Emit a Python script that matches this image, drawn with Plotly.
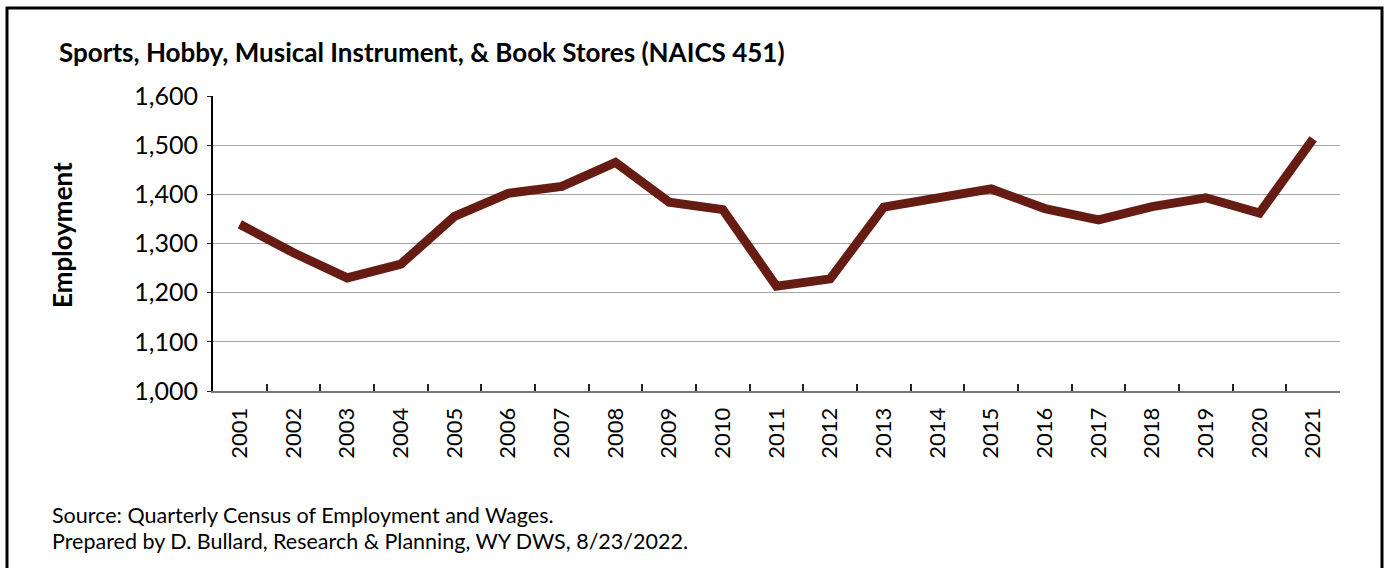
import plotly.graph_objects as go

years = [str(y) for y in range(2001, 2022)]
employment = [1339, 1281, 1230, 1258, 1355, 1402, 1416, 1465, 1384, 1369,
              1213, 1228, 1374, 1394, 1411, 1371, 1348, 1375, 1393, 1362, 1513]
y_ticks = [1000, 1100, 1200, 1300, 1400, 1500, 1600]
y_tick_text = ["1,000", "1,100", "1,200", "1,300", "1,400", "1,500", "1,600"]

title_text = "Sports, Hobby, Musical Instrument, & Book Stores (NAICS 451)"
y_title = "Employment"
source_lines = [
    "Source: Quarterly Census of Employment and Wages.",
    "Prepared by D. Bullard, Research & Planning, WY DWS, 8/23/2022.",
]

FONT = "Lato"
W, H = 1387, 568
L, R, T, B = 213, 47, 96, 177

fig = go.Figure()
fig.add_trace(go.Scatter(
    x=years, y=employment, mode="lines",
    line=dict(color="#661c12", width=9),
    hoverinfo="x+y",
))

pw = W - L - R
ph = H - T - B


def px(x):
    return (x - L) / pw


def py(y):
    return (H - B - y) / ph


fig.update_layout(
    width=W, height=H,
    margin=dict(l=L, r=R, t=T, b=B),
    paper_bgcolor="white", plot_bgcolor="white",
    showlegend=False,
    font=dict(family=FONT, color="black"),
    xaxis=dict(
        type="category", tickangle=-90,
        range=[-0.5, len(years) - 0.5],
        tickfont=dict(size=22, family=FONT),
        ticks="inside", ticklen=7, tickwidth=2, tickcolor="#222",
        tickson="boundaries",
        showline=True, linecolor="#777", linewidth=2,
        showgrid=False, zeroline=False,
        ticklabelstandoff=6,
    ),
    yaxis=dict(
        range=[1000, 1600], tickvals=y_ticks, ticktext=y_tick_text,
        tickfont=dict(size=25, family=FONT),
        ticks="outside", ticklen=4, tickcolor="#222",
        showline=True, linecolor="black", linewidth=2,
        showgrid=True, gridcolor="#a6a6a6", gridwidth=1,
        zeroline=False,
        ticklabelstandoff=4,
    ),
    shapes=[dict(
        type="rect", xref="paper", yref="paper",
        x0=px(7), x1=px(1382), y0=py(600), y1=py(8),
        line=dict(color="black", width=3), fillcolor="rgba(0,0,0,0)",
        layer="above",
    )],
    annotations=[
        dict(text="<b>" + title_text + "</b>", xref="paper", yref="paper",
             x=px(57), y=py(52), xanchor="left", yanchor="middle",
             showarrow=False, font=dict(size=26, family=FONT)),
        dict(text="<b>" + y_title + "</b>", xref="paper", yref="paper",
             x=px(62), y=py(235), xanchor="center", yanchor="middle",
             textangle=-90, showarrow=False, font=dict(size=26, family=FONT)),
        dict(text=source_lines[0], xref="paper", yref="paper",
             x=px(50), y=py(515), xanchor="left", yanchor="middle",
             showarrow=False, font=dict(size=21.5, family=FONT)),
        dict(text=source_lines[1], xref="paper", yref="paper",
             x=px(50), y=py(541), xanchor="left", yanchor="middle",
             showarrow=False, font=dict(size=21.5, family=FONT)),
    ],
)

fig.write_html("out.html")
